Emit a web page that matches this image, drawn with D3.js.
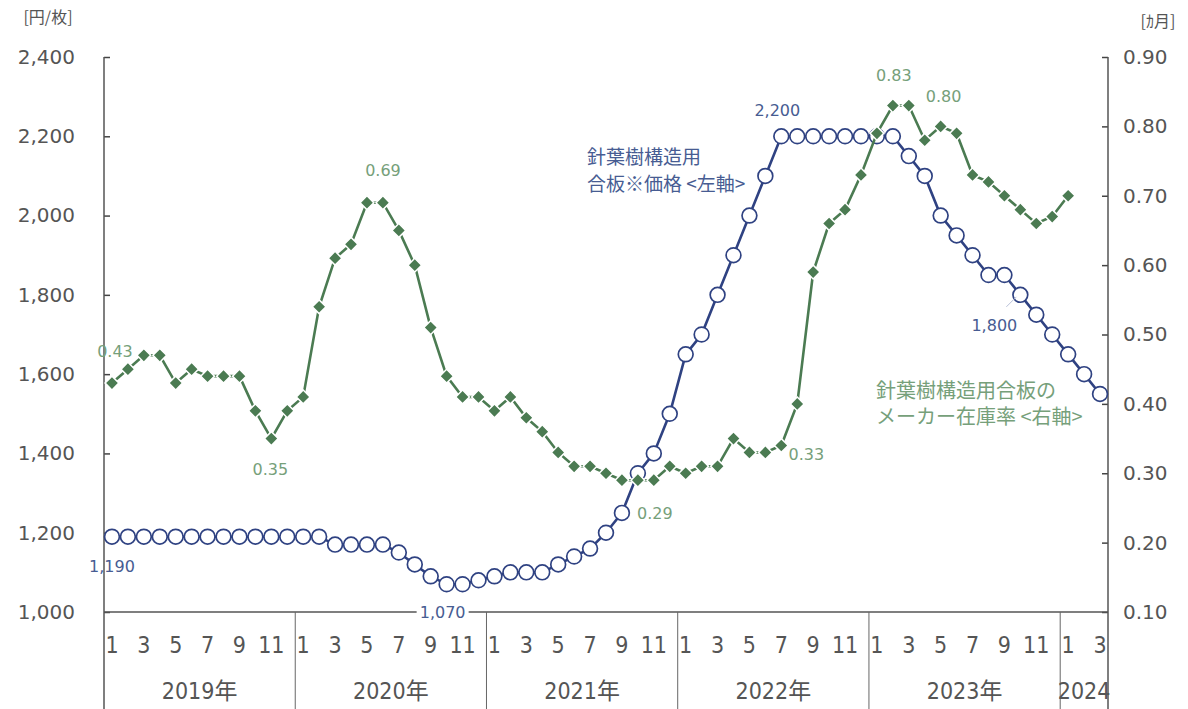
<!DOCTYPE html>
<html>
<head>
<meta charset="utf-8">
<script src="https://cdn.jsdelivr.net/npm/d3@7"></script>
<style>
  body { margin: 0; background: #fff; }
  svg { display: block; }
  .tick text { font-family: "DejaVu Sans", Verdana, sans-serif; }
</style>
</head>
<body>
<div id="chart"></div>
<script>
const years = ["2019年", "2020年", "2021年", "2022年", "2023年", "2024"];
const monthTicks = [1, 3, 5, 7, 9, 11];

// 針葉樹構造用合板 価格 (円/枚), 2019-01 .. 2024-03
const price = [
  1190, 1190, 1190, 1190, 1190, 1190, 1190, 1190, 1190, 1190, 1190, 1190,
  1190, 1190, 1170, 1170, 1170, 1170, 1150, 1120, 1090, 1070, 1070, 1080,
  1090, 1100, 1100, 1100, 1120, 1140, 1160, 1200, 1250, 1350, 1400, 1500,
  1650, 1700, 1800, 1900, 2000, 2100, 2200, 2200, 2200, 2200, 2200, 2200,
  2200, 2200, 2150, 2100, 2000, 1950, 1900, 1850, 1850, 1800, 1750, 1700,
  1650, 1600, 1550,
];

// メーカー在庫率 (ヵ月), 2019-01 .. 2024-01
const stock = [
  0.43, 0.45, 0.47, 0.47, 0.43, 0.45, 0.44, 0.44, 0.44, 0.39, 0.35, 0.39,
  0.41, 0.54, 0.61, 0.63, 0.69, 0.69, 0.65, 0.60, 0.51, 0.44, 0.41, 0.41,
  0.39, 0.41, 0.38, 0.36, 0.33, 0.31, 0.31, 0.30, 0.29, 0.29, 0.29, 0.31,
  0.30, 0.31, 0.31, 0.35, 0.33, 0.33, 0.34, 0.40, 0.59, 0.66, 0.68, 0.73,
  0.79, 0.83, 0.83, 0.78, 0.80, 0.79, 0.73, 0.72, 0.70, 0.68, 0.66, 0.67,
  0.70,
];

const leftTicks = [1000, 1200, 1400, 1600, 1800, 2000, 2200, 2400];
const rightTicks = [0.1, 0.2, 0.3, 0.4, 0.5, 0.6, 0.7, 0.8, 0.9];

// value labels: [series, month index, text, dx, dy]
const priceNotes = [
  [0, "1,190", 0, 31],
  [21, "1,070", -4, 29],
  [42, "2,200", -4, -25],
  [57, "1,800", -26, 32],
];
const stockNotes = [
  [0, "0.43", 3, -31],
  [10, "0.35", -1, 32],
  [16, "0.69", 16, -31],
  [33, "0.29", 17, 34],
  [42, "0.33", 25, 10],
  [49, "0.83", 1, -29],
  [52, "0.80", 3, -29],
];

const width = 1188;
const height = 709;
const plot = { left: 104, right: 1108, top: 57, bottom: 612 };

const blue = "#2f4282";
const green = "#4b7b52";
const blueText = "#475c92";
const greenText = "#76a07a";
const axisText = "#555";

const months = d3.range(price.length);

const svg = d3.select("#chart").append("svg")
  .attr("width", width)
  .attr("height", height);

const x = d3.scaleBand().domain(months).range([plot.left, plot.right]);
const cx = (i) => x(i) + x.bandwidth() / 2;
const yL = d3.scaleLinear().domain([1000, 2400]).range([plot.bottom, plot.top]);
const yR = d3.scaleLinear().domain([0.1, 0.9]).range([plot.bottom, plot.top]);

// left axis
const gLeft = svg.append("g")
  .attr("transform", `translate(${plot.left},0)`)
  .call(d3.axisLeft(yL).tickValues(leftTicks).tickSizeInner(-6).tickSizeOuter(0)
    .tickPadding(29).tickFormat(d3.format(",")));
gLeft.select(".domain").remove();
gLeft.selectAll(".tick line").attr("stroke", "#444").attr("stroke-width", 1.5);
gLeft.selectAll(".tick text").attr("fill", axisText).style("font-size", "20px");

// right axis
const gRight = svg.append("g")
  .attr("transform", `translate(${plot.right},0)`)
  .call(d3.axisRight(yR).tickValues(rightTicks).tickSizeInner(-6).tickSizeOuter(0)
    .tickPadding(15).tickFormat(d3.format(".2f")));
gRight.select(".domain").remove();
gRight.selectAll(".tick line").attr("stroke", "#444").attr("stroke-width", 1.5);
gRight.selectAll(".tick text").attr("fill", axisText).style("font-size", "20px");

// frame lines: axes verticals run down through the category area
svg.append("line")
  .attr("x1", plot.left).attr("x2", plot.left)
  .attr("y1", plot.top).attr("y2", height)
  .attr("stroke", "#555").attr("stroke-width", 1.5);
svg.append("line")
  .attr("x1", plot.right).attr("x2", plot.right)
  .attr("y1", plot.top).attr("y2", height)
  .attr("stroke", "#555").attr("stroke-width", 1.5);
svg.append("line")
  .attr("x1", plot.left).attr("x2", plot.right)
  .attr("y1", plot.bottom).attr("y2", plot.bottom)
  .attr("stroke", "#555").attr("stroke-width", 1.5);

// year separators
const yearStarts = years.map((_, k) => k * 12).filter((i) => i > 0);
svg.append("g").selectAll("line")
  .data(yearStarts)
  .join("line")
  .attr("x1", (i) => x(i)).attr("x2", (i) => x(i))
  .attr("y1", plot.bottom).attr("y2", height)
  .attr("stroke", "#666").attr("stroke-width", 1);

// month labels
const monthIdx = months.filter((i) => monthTicks.includes((i % 12) + 1));
svg.append("g").selectAll("text")
  .data(monthIdx)
  .join("text")
  .attr("x", (i) => cx(i))
  .attr("y", 646)
  .attr("text-anchor", "middle")
  .attr("dominant-baseline", "middle")
  .attr("fill", axisText)
  .style("font-family", '"Liberation Sans Narrow", "DejaVu Sans Condensed", sans-serif')
  .style("font-size", "23px")
  .text((i) => (i % 12) + 1);

// year labels
svg.append("g").selectAll("text")
  .data(years)
  .join("text")
  .attr("x", (d, k) => {
    const a = x(k * 12);
    const b = Math.min(k * 12 + 12, price.length);
    return (a + x(b - 1) + x.bandwidth()) / 2;
  })
  .attr("y", 692)
  .attr("text-anchor", "middle")
  .attr("dominant-baseline", "middle")
  .attr("fill", axisText)
  .style("font-family", '"Liberation Sans Narrow", "DejaVu Sans Condensed", "Noto Sans CJK JP", sans-serif')
  .style("font-size", "23px")
  .text((d) => d);

// unit labels
svg.append("text")
  .attr("x", 48).attr("y", 19)
  .attr("text-anchor", "middle").attr("dominant-baseline", "middle")
  .attr("fill", axisText)
  .style("font-family", '"Noto Sans CJK JP", sans-serif').style("font-size", "16px")
  .text("[円/枚]");
svg.append("text")
  .attr("x", 1158).attr("y", 23)
  .attr("text-anchor", "middle").attr("dominant-baseline", "middle")
  .attr("fill", axisText)
  .style("font-family", '"Noto Sans CJK JP", sans-serif').style("font-size", "16px")
  .text("[ｶ月]");

// price line + open circles
svg.append("path")
  .datum(price)
  .attr("fill", "none")
  .attr("stroke", blue)
  .attr("stroke-width", 2.6)
  .attr("d", d3.line().x((d, i) => cx(i)).y((d) => yL(d)));

svg.append("g").selectAll("circle")
  .data(price)
  .join("circle")
  .attr("cx", (d, i) => cx(i))
  .attr("cy", (d) => yL(d))
  .attr("r", 7.4)
  .attr("fill", "#fff")
  .attr("stroke", blue)
  .attr("stroke-width", 1.7);

// stock line + diamonds
svg.append("path")
  .datum(stock)
  .attr("fill", "none")
  .attr("stroke", green)
  .attr("stroke-width", 2.6)
  .attr("d", d3.line().x((d, i) => cx(i)).y((d) => yR(d)));

svg.append("g").selectAll("path")
  .data(stock)
  .join("path")
  .attr("transform", (d, i) => `translate(${cx(i)},${yR(d)}) rotate(45)`)
  .attr("d", d3.symbol(d3.symbolSquare, 95))
  .attr("fill", green)
  .attr("stroke", "#fff")
  .attr("stroke-width", 1.5);

// value labels
const noteFont = '"DejaVu Sans", Verdana, sans-serif';

// leader for 1,800
svg.append("line")
  .attr("x1", cx(57) - 14).attr("y1", yL(1800) + 12)
  .attr("x2", cx(57) - 4).attr("y2", yL(1800) + 2)
  .attr("stroke", "#b8c0d8").attr("stroke-width", 1);

const priceLabel = svg.append("g").selectAll("g")
  .data(priceNotes)
  .join("g")
  .attr("transform", ([i, , dx, dy]) => `translate(${cx(i) + dx},${yL(price[i]) + dy})`);
priceLabel.filter(([i]) => i === 21)
  .append("rect")
  .attr("x", -26).attr("y", -9).attr("width", 52).attr("height", 18)
  .attr("fill", "#fff");
priceLabel.append("text")
  .attr("text-anchor", "middle")
  .attr("dominant-baseline", "middle")
  .attr("fill", blueText)
  .style("font-family", noteFont)
  .style("font-size", "16px")
  .text(([, t]) => t);

svg.append("g").selectAll("text")
  .data(stockNotes)
  .join("text")
  .attr("x", ([i, , dx]) => cx(i) + dx)
  .attr("y", ([i, , , dy]) => yR(stock[i]) + dy)
  .attr("text-anchor", "middle")
  .attr("dominant-baseline", "middle")
  .attr("fill", greenText)
  .style("font-family", noteFont)
  .style("font-size", "16px")
  .text(([, t]) => t);

// series labels
const jpFont = '"Noto Sans CJK JP", sans-serif';
const blueName = svg.append("text")
  .attr("fill", blueText)
  .style("font-family", jpFont)
  .style("font-size", "19px");
blueName.append("tspan").attr("x", 587).attr("y", 164).text("針葉樹構造用");
blueName.append("tspan").attr("x", 587).attr("y", 191).text("合板※価格 <左軸>");

const greenName = svg.append("text")
  .attr("fill", greenText)
  .style("font-family", jpFont)
  .style("font-size", "20px");
greenName.append("tspan").attr("x", 876).attr("y", 398).text("針葉樹構造用合板の");
greenName.append("tspan").attr("x", 876).attr("y", 424).text("メーカー在庫率 <右軸>");
</script>
</body>
</html>
